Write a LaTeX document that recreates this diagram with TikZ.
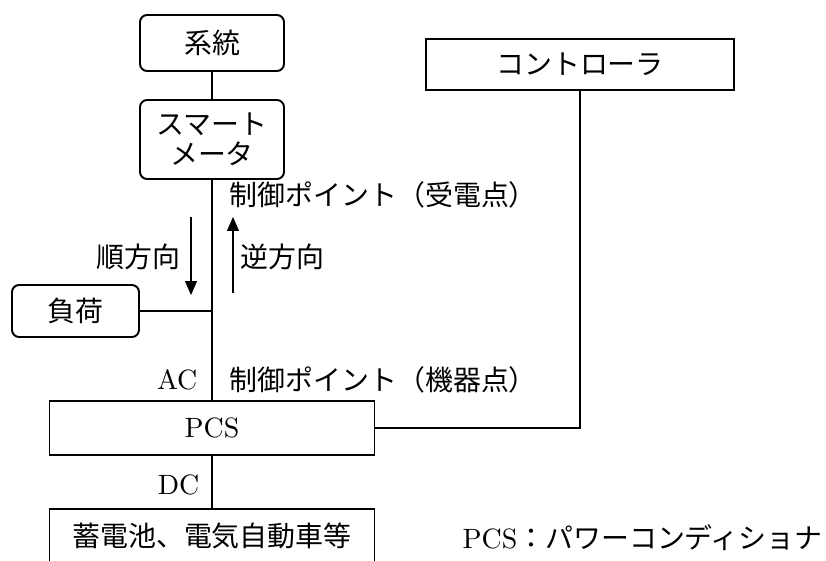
\documentclass[tikz,border=0pt]{standalone}
\usepackage{fontspec}
\setmainfont{lmroman10-regular}[Extension=.otf]
\newfontfamily\jp{Noto Sans CJK JP}
\usetikzlibrary{arrows.meta,positioning}

\begin{document}
\begin{tikzpicture}[x=0.02cm, y=-0.02cm, line width=0.7pt,
  caja/.style={draw, line width=1.1pt, inner sep=0pt},
  redonda/.style={caja, rounded corners=4pt},
  ltxt/.style={font=\fontsize{15.9}{17}\selectfont\rmfamily},
  jtxt/.style={font=\fontsize{15.9}{17}\selectfont\jp},
  etiqueta/.style={inner sep=0pt},
  flecha/.style={-{Triangle[length=0.28cm,width=0.24cm]}}]

  \clip (0,0) rectangle (826,561);

  % Bloques
  \node[redonda, jtxt, minimum width=2.88cm, minimum height=1.12cm] (grid) at (212,43) {系統};
  \node[redonda, jtxt, align=center, minimum width=2.88cm, minimum height=1.58cm] (meter) at (212,139.5) {スマート\\メータ};
  \node[redonda, jtxt, minimum width=2.54cm, minimum height=1.04cm] (load) at (75.5,311) {負荷};
  \node[caja, ltxt, minimum width=6.5cm, minimum height=1.08cm] (pcs) at (212,428) {PCS};
  \node[caja, jtxt, minimum width=6.16cm, minimum height=1.02cm] (ctrl) at (580,64.5) {コントローラ};
  \node[caja, jtxt, minimum width=6.5cm, minimum height=1.08cm] (batt) at (212,536) {蓄電池、電気自動車等};

  % Lineas
  \coordinate (junc) at (meter.south |- load.east);
  \draw (grid) -- (meter);
  \draw (meter.south) -- (pcs.north);
  \draw (load.east) -- (junc);
  \draw (pcs.east) -| (ctrl.south);
  \draw (pcs) -- (batt);

  % Flechas
  \coordinate (fwd1) at (191,217);
  \coordinate (fwd2) at (191,295);
  \coordinate (rev1) at (233,293);
  \coordinate (rev2) at (233,217);
  \draw[flecha] (fwd1) -- (fwd2);
  \draw[flecha] (rev1) -- (rev2);

  % Etiquetas
  \node[etiqueta, jtxt, anchor=west] (cpin) at (229,195) {制御ポイント（受電点）};
  \node[etiqueta, jtxt, anchor=east] (fwd) at (181,257) {順方向};
  \node[etiqueta, jtxt, anchor=west] (rev) at (240,257) {逆方向};
  \node[etiqueta, ltxt, anchor=east] (ac) at (198,380) {AC};
  \node[etiqueta, jtxt, anchor=west] (cpdev) at (229,380) {制御ポイント（機器点）};
  \node[etiqueta, ltxt, anchor=east] (dc) at (200,485) {DC};
  \node[etiqueta, ltxt, anchor=west] (note) at (462,538) {PCS{\jp：パワーコンディショナ}};
\end{tikzpicture}
\end{document}
